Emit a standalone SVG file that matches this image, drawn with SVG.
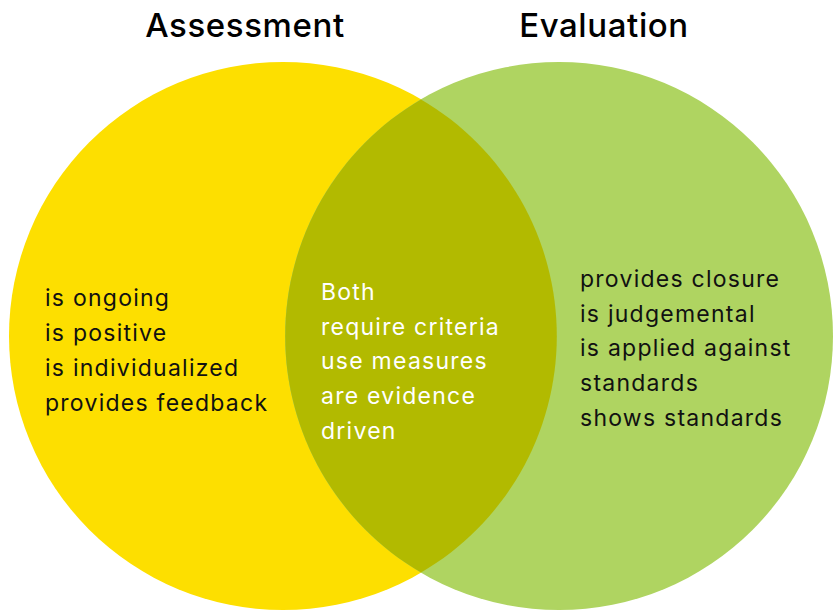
<svg xmlns="http://www.w3.org/2000/svg" width="838" height="610" viewBox="0 0 838 610">
<style>
.title{font-family:Inter,"Open Sans","Liberation Sans",sans-serif;font-size:33px;font-weight:500;fill:#000;text-anchor:middle;letter-spacing:0.6px}
.t{font-family:Inter,"Open Sans","Liberation Sans",sans-serif;font-size:23px;fill:#111;letter-spacing:1.25px}
.w{fill:#fff}
</style>
<rect width="838" height="610" fill="#fff"/>
<g id="assessment">
<circle cx="283" cy="336" r="274" fill="#FDDF00"/>
<text class="title" x="245" y="37">Assessment</text>
<text class="t" x="45" y="306">is ongoing</text>
<text class="t" x="45" y="341">is positive</text>
<text class="t" x="45" y="376">is individualized</text>
<text class="t" x="45" y="411">provides feedback</text>
</g>
<g id="evaluation">
<circle cx="559" cy="336" r="274" fill="#AFD461"/>
<text class="title" x="604" y="37">Evaluation</text>
<text class="t" x="580" y="287">provides closure</text>
<text class="t" x="580" y="322">is judgemental</text>
<text class="t" x="580" y="356">is applied against</text>
<text class="t" x="580" y="391">standards</text>
<text class="t" x="580" y="426">shows standards</text>
</g>
<g id="both">
<path d="M421 99.4 A274 274 0 0 1 421 572.6 A274 274 0 0 1 421 99.4 Z" fill="#B2BA00"/>
<text class="t w" x="321" y="300">Both</text>
<text class="t w" x="321" y="335">require criteria</text>
<text class="t w" x="321" y="369">use measures</text>
<text class="t w" x="321" y="404">are evidence</text>
<text class="t w" x="321" y="439">driven</text>
</g>
<g id="connectors"></g>
</svg>
